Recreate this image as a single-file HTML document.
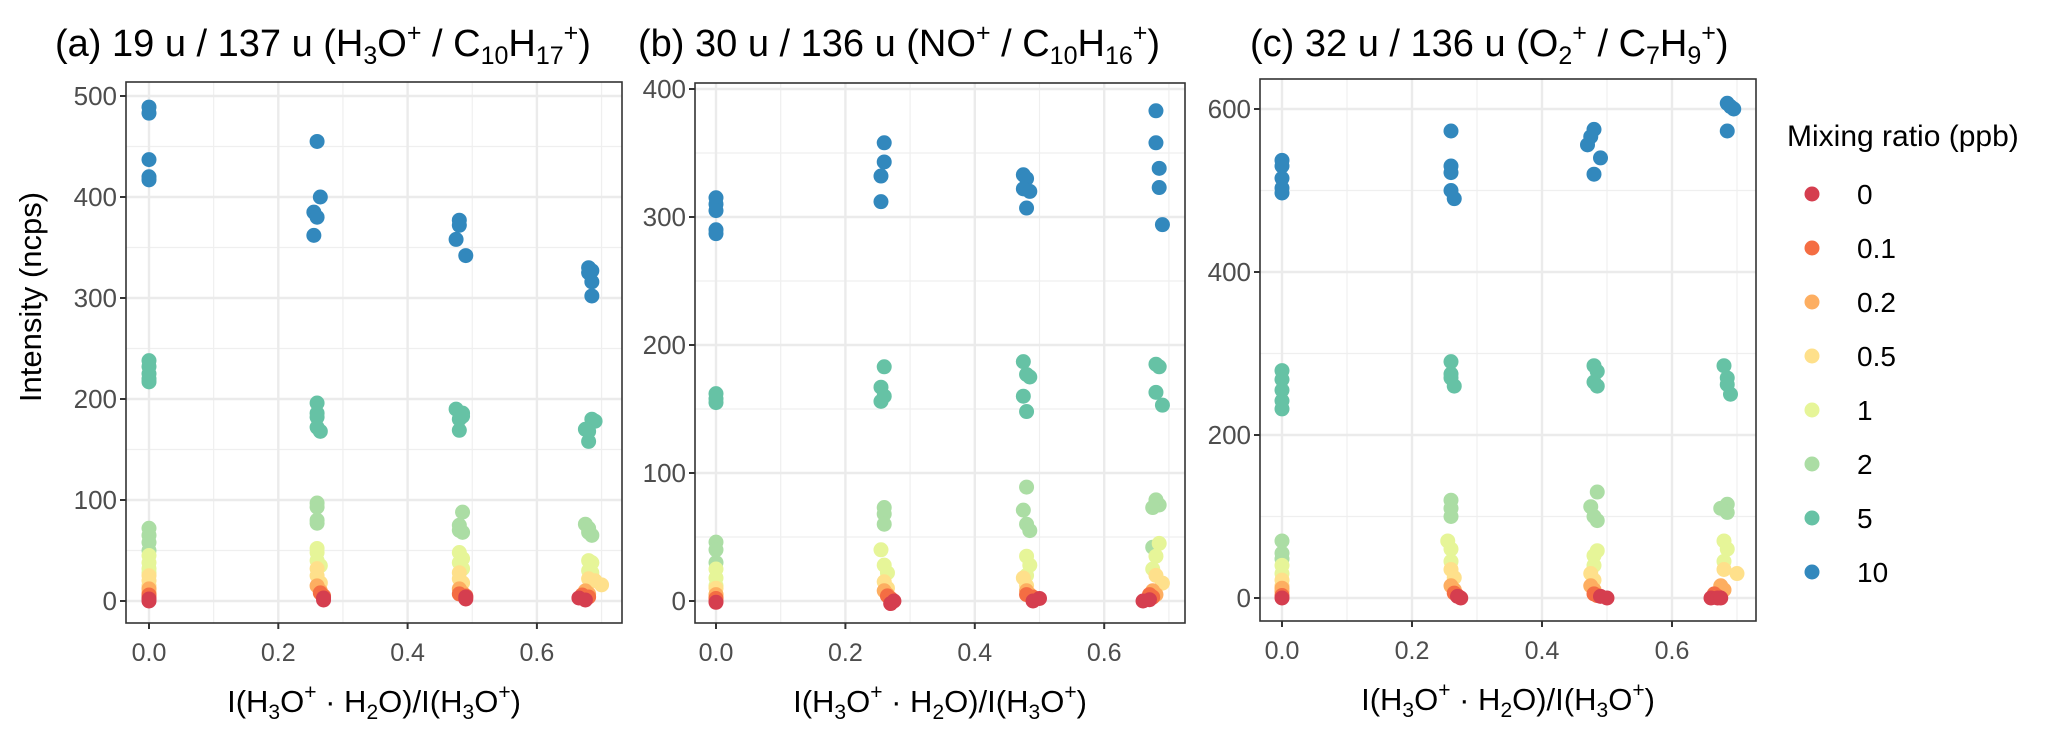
<!DOCTYPE html>
<html><head><meta charset="utf-8">
<style>
html,body{margin:0;padding:0;background:#fff;}
svg{display:block;font-family:"Liberation Sans",Arial,sans-serif;}
</style></head>
<body>
<svg id="chart" width="2067" height="736" viewBox="0 0 2067 736" xmlns="http://www.w3.org/2000/svg">
  <rect x="0" y="0" width="2067" height="736" fill="#fff"/>
  <g id="panels"></g>
  <text x="33" y="297" transform="rotate(-90 33 297)" text-anchor="middle" dominant-baseline="middle" font-size="31" fill="#000">Intensity (ncps)</text>

  <text x="55" y="56" font-size="38" fill="#000">(a) 19 u / 137 u (H<tspan font-size="25" dy="8">3</tspan><tspan dy="-8">O</tspan><tspan font-size="25" dy="-15">+</tspan><tspan dy="15"> / C</tspan><tspan font-size="25" dy="8">10</tspan><tspan dy="-8">H</tspan><tspan font-size="25" dy="8">17</tspan><tspan font-size="25" dy="-23">+</tspan><tspan dy="15">)</tspan></text>
  <text x="638" y="56" font-size="38" fill="#000">(b) 30 u / 136 u (NO<tspan font-size="25" dy="-15">+</tspan><tspan dy="15"> / C</tspan><tspan font-size="25" dy="8">10</tspan><tspan dy="-8">H</tspan><tspan font-size="25" dy="8">16</tspan><tspan font-size="25" dy="-23">+</tspan><tspan dy="15">)</tspan></text>
  <text x="1250" y="56" font-size="38" fill="#000">(c) 32 u / 136 u (O<tspan font-size="25" dy="8">2</tspan><tspan font-size="25" dy="-23">+</tspan><tspan dy="15"> / C</tspan><tspan font-size="25" dy="8">7</tspan><tspan dy="-8">H</tspan><tspan font-size="25" dy="8">9</tspan><tspan font-size="25" dy="-23">+</tspan><tspan dy="15">)</tspan></text>

  <g id="legend">
    <text x="1787" y="146" font-size="30" fill="#000">Mixing ratio (ppb)</text>
  </g>
</svg>
<script>
const levels = ["0","0.1","0.2","0.5","1","2","5","10"];
const colors = ["#D53E4F","#F46D43","#FDAE61","#FEE08B","#E6F598","#ABDDA4","#66C2A5","#3288BD"];
const xTicks = [0, 0.2, 0.4, 0.6];
const xTickLabels = ["0.0","0.2","0.4","0.6"];

// Panel A data: per level, x and y arrays
const aX0 = [0,0,0.27,0.27,0.49,0.49,0.665,0.675];
const aY0 = [2,0,3,1,4,2,3,1];
const aX01 = [0,0,0.265,0.27,0.48,0.49,0.67,0.68];
const aY01 = [6,4,8,5,7,5,6,4];
const aX02 = [0,0,0.26,0.265,0.48,0.485,0.675,0.68];
const aY02 = [12,8,15,10,12,8,10,7];
const aX05 = [0,0,0,0.26,0.26,0.265,0.48,0.48,0.485,0.68,0.69,0.7];
const aY05 = [25,20,15,32,25,18,28,22,18,22,20,16];
const aX1 = [0,0,0,0,0.26,0.26,0.26,0.265,0.48,0.485,0.48,0.485,0.68,0.685,0.68,0.685];
const aY1 = [45,38,32,28,52,48,40,35,48,42,38,32,40,38,30,28];
const aX2 = [0,0,0,0,0.26,0.26,0.26,0.26,0.485,0.48,0.48,0.485,0.675,0.68,0.68,0.685];
const aY2 = [72,65,58,50,97,93,80,77,88,75,70,68,76,72,68,65];
const aX5 = [0,0,0,0,0,0.26,0.26,0.26,0.26,0.265,0.475,0.485,0.485,0.48,0.48,0.685,0.69,0.675,0.68,0.68];
const aY5 = [238,232,225,220,217,196,186,182,172,168,190,186,183,180,169,180,178,170,168,158];
const aX10 = [0,0,0,0,0,0.26,0.265,0.255,0.26,0.255,0.48,0.48,0.475,0.49,0.68,0.685,0.68,0.685,0.685];
const aY10 = [489,483,437,420,417,455,400,385,380,362,377,372,358,342,330,327,325,316,302];

// Panel B data
const bX0 = [0,0.27,0.275,0.49,0.5,0.66,0.67];
const bY0 = [-1,-2,0,0,2,0,1];
const bX01 = [0,0,0.265,0.27,0.48,0.49,0.67,0.675];
const bY01 = [2,0,4,2,5,3,5,3];
const bX02 = [0,0,0.26,0.265,0.48,0.485,0.675,0.68];
const bY02 = [5,3,8,5,8,5,8,5];
const bX05 = [0,0,0.26,0.265,0.475,0.48,0.68,0.69];
const bY05 = [10,5,15,10,18,12,20,14];
const bX1 = [0,0,0,0.255,0.26,0.265,0.48,0.485,0.48,0.685,0.68,0.675];
const bY1 = [25,18,12,40,28,22,35,28,20,45,35,25];
const bX2 = [0,0,0,0.26,0.26,0.26,0.48,0.475,0.48,0.485,0.68,0.685,0.675,0.675];
const bY2 = [46,40,30,73,68,60,89,71,60,55,79,75,73,42];
const bX5 = [0,0,0,0.26,0.255,0.26,0.255,0.475,0.48,0.485,0.475,0.48,0.68,0.685,0.68,0.69];
const bY5 = [162,158,155,183,167,160,156,187,177,175,160,148,185,183,163,153];
const bX10 = [0,0,0,0,0,0.26,0.26,0.255,0.255,0.475,0.48,0.475,0.485,0.48,0.68,0.68,0.685,0.685,0.69];
const bY10 = [315,310,305,290,287,358,343,332,312,333,330,322,320,307,383,358,338,323,294];

// Panel C data
const cX0 = [0,0.27,0.275,0.49,0.5,0.66,0.67,0.675];
const cY0 = [0,2,0,2,0,0,0,0];
const cX01 = [0,0.265,0.27,0.48,0.485,0.665,0.67];
const cY01 = [3,6,3,5,3,5,2];
const cX02 = [0,0,0.26,0.265,0.475,0.48,0.675,0.68];
const cY02 = [8,12,15,10,15,10,15,10];
const cX05 = [0,0,0.26,0.265,0.475,0.48,0.68,0.7];
const cY05 = [15,22,35,25,30,22,35,30];
const cX1 = [0,0,0.255,0.26,0.26,0.485,0.48,0.48,0.68,0.685,0.68];
const cY1 = [30,40,70,60,45,58,52,40,70,60,45];
const cX2 = [0,0,0,0.26,0.26,0.26,0.485,0.475,0.48,0.485,0.685,0.675,0.685];
const cY2 = [70,55,48,120,110,100,130,112,100,95,115,110,105];
const cX5 = [0,0,0,0,0,0.26,0.26,0.26,0.265,0.48,0.485,0.48,0.485,0.68,0.685,0.685,0.69];
const cY5 = [279,268,255,242,232,290,275,270,260,285,278,265,260,285,270,262,250];
const cX10 = [0,0,0,0,0,0.26,0.26,0.26,0.26,0.265,0.48,0.475,0.47,0.49,0.48,0.685,0.69,0.695,0.685];
const cY10 = [537,530,515,503,497,573,530,522,500,490,575,566,556,540,520,607,603,600,573];

const aXS = [aX0,aX01,aX02,aX05,aX1,aX2,aX5,aX10];
const aYS = [aY0,aY01,aY02,aY05,aY1,aY2,aY5,aY10];
const bXS = [bX0,bX01,bX02,bX05,bX1,bX2,bX5,bX10];
const bYS = [bY0,bY01,bY02,bY05,bY1,bY2,bY5,bY10];
const cXS = [cX0,cX01,cX02,cX05,cX1,cX2,cX5,cX10];
const cYS = [cY0,cY01,cY02,cY05,cY1,cY2,cY5,cY10];

const aYTicks = [0,100,200,300,400,500];
const aYMinor = [50,150,250,350,450];
const bYTicks = [0,100,200,300,400];
const bYMinor = [50,150,250,350];
const cYTicks = [0,200,400,600];
const cYMinor = [100,300,500];
const xMinor = [0.1,0.3,0.5,0.7];

const NS = "http://www.w3.org/2000/svg";
const root = document.getElementById("panels");
function mk(tag, attrs, parent){
  const e = document.createElementNS(NS, tag);
  for (const k in attrs) e.setAttribute(k, attrs[k]);
  parent.appendChild(e);
  return e;
}

const panels = [
  {id:"a", L:126, R:622, T:82, B:623, x0:149, xPer:646.5, y0:601, yPer:1.01, xs:aXS, ys:aYS, yt:aYTicks, ym:aYMinor},
  {id:"b", L:695, R:1185, T:83, B:623, x0:716, xPer:647, y0:601, yPer:1.28, xs:bXS, ys:bYS, yt:bYTicks, ym:bYMinor},
  {id:"c", L:1260, R:1756, T:79, B:621, x0:1282, xPer:650, y0:598, yPer:0.815, xs:cXS, ys:cYS, yt:cYTicks, ym:cYMinor}
];

panels.forEach(p => {
  const xs = v => p.x0 + v * p.xPer;
  const ys = v => p.y0 - v * p.yPer;
  const g = mk("g", {}, root);
  
  
  mk("rect", {x:p.L, y:p.T, width:p.R-p.L, height:p.B-p.T, fill:"#fff"}, g);
  p.ym.forEach(v => {
    const l = mk("line", {x1:p.L, x2:p.R, y1:ys(v), y2:ys(v), stroke:"#efefef", "stroke-width":1.2}, g);
    
    
  });
  xMinor.forEach(v => {
    const l = mk("line", {x1:xs(v), x2:xs(v), y1:p.T, y2:p.B, stroke:"#efefef", "stroke-width":1.2}, g);
    
    
  });
  p.yt.forEach(v => {
    const l = mk("line", {x1:p.L, x2:p.R, y1:ys(v), y2:ys(v), stroke:"#ebebeb", "stroke-width":2.4}, g);
    
    
    const t = mk("line", {x1:p.L-6, x2:p.L, y1:ys(v), y2:ys(v), stroke:"#333", "stroke-width":2}, g);
    
    
    const tx = mk("text", {x:p.L-9, y:ys(v)+9, "text-anchor":"end", "font-size":26, fill:"#4d4d4d"}, g);
    tx.textContent = String(v);
    
    
  });
  xTicks.forEach((v,i) => {
    const l = mk("line", {x1:xs(v), x2:xs(v), y1:p.T, y2:p.B, stroke:"#ebebeb", "stroke-width":2.4}, g);
    
    
    const t = mk("line", {x1:xs(v), x2:xs(v), y1:p.B, y2:p.B+6, stroke:"#333", "stroke-width":2}, g);
    
    
    const tx = mk("text", {x:xs(v), y:p.B+38, "text-anchor":"middle", "font-size":25, fill:"#4d4d4d"}, g);
    tx.textContent = xTickLabels[i];
    
    
  });
  for (let k = levels.length-1; k >= 0; k--) {
    const X = p.xs[k], Y = p.ys[k];
    for (let j = 0; j < X.length; j++) {
      const c = mk("circle", {cx:xs(X[j]), cy:ys(Y[j]), r:7.5, fill:colors[k]}, g);
      
      
    }
  }
  const border = mk("rect", {x:p.L, y:p.T, width:p.R-p.L, height:p.B-p.T, fill:"none", stroke:"#333", "stroke-width":1.6}, g);
  
  
  const cx = (p.L + p.R) / 2;
  const tt = mk("text", {x:cx, y:p.B+89, "text-anchor":"middle", "font-size":31, fill:"#000"}, g);
  
  
  tt.innerHTML = 'I(H<tspan font-size="21" dy="7">3</tspan><tspan dy="-7">O</tspan><tspan font-size="21" dy="-13">+</tspan><tspan dy="13"> · H</tspan><tspan font-size="21" dy="7">2</tspan><tspan dy="-7">O)/I(H</tspan><tspan font-size="21" dy="7">3</tspan><tspan dy="-7">O</tspan><tspan font-size="21" dy="-13">+</tspan><tspan dy="13">)</tspan>';
});

const lg = document.getElementById("legend");
levels.forEach((lv, i) => {
  const y = 194 + i * 54;
  const c = mk("circle", {cx:1812, cy:y, r:7.5, fill:colors[i]}, lg);
  
  
  const t = mk("text", {x:1857, y:y+10, "font-size":28, fill:"#000"}, lg);
  t.textContent = lv;
  
  
});
</script>
</body></html>
